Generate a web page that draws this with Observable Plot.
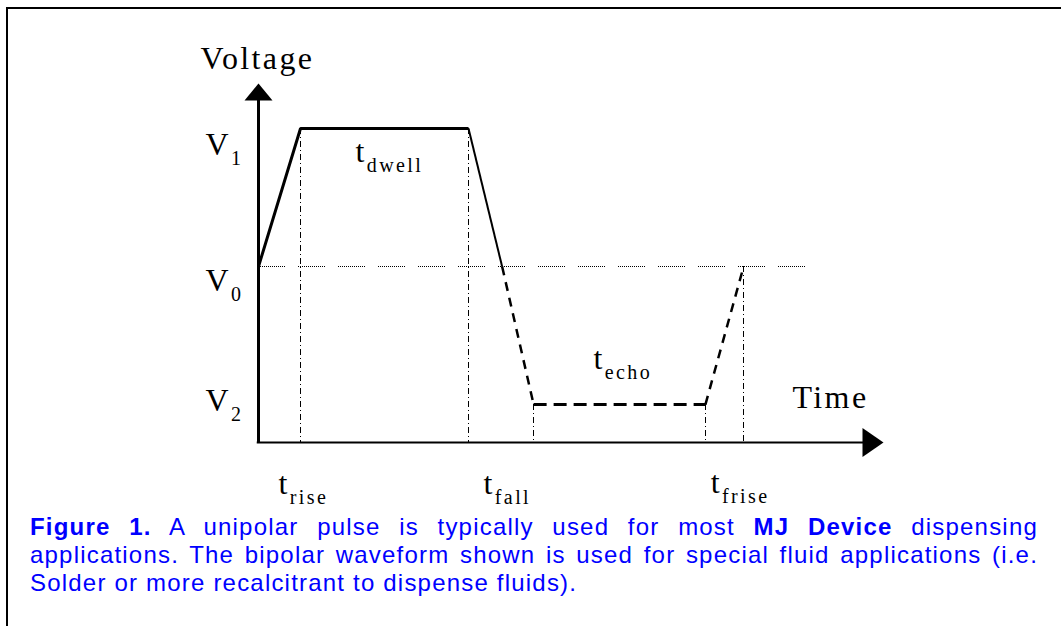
<!DOCTYPE html>
<html>
<head>
<meta charset="utf-8">
<script src="https://cdn.jsdelivr.net/npm/d3@7"></script>
<script src="https://cdn.jsdelivr.net/npm/@observablehq/plot@0.6"></script>
<style>
  html, body { margin: 0; padding: 0; background: #fff; overflow: hidden; width: 1061px; height: 626px; }
  #frame { position: absolute; left: 6px; top: 7px; width: 1200px; height: 800px;
           border-left: 2px solid #000; border-top: 2px solid #000; }
  #chart { position: absolute; left: 0; top: 0; }
  #chart svg text { letter-spacing: 2.4px; }
  #caption { position: absolute; left: 30px; top: 513px; width: 1008px;
             font-family: "Liberation Sans", Arial, sans-serif; font-size: 24px; line-height: 28px;
             letter-spacing: 1.2px; color: #0000ff; }
  #caption .j { text-align: justify; text-align-last: justify; }
</style>
</head>
<body>
<div id="frame"></div>
<div id="chart"></div>
<div id="caption">
  <div class="j"><b>Figure 1.</b> A unipolar pulse is typically used for most <b>MJ Device</b> dispensing</div>
  <div class="j">applications. The bipolar waveform shown is used for special fluid applications (i.e.</div>
  <div>Solder or more recalcitrant to dispense fluids).</div>
</div>
<script>
// ---- data (arbitrary time units / voltage levels) ----
const levelNames = ["V_1", "V_0", "V_2"];
const levelValues = [1, 0, -1];
const pulseT = [0, 1, 5, 5.8, 6.55, 10.64, 11.55];   // waveform corner times
const pulseV = [0, 1, 1, 0, -1, -1, 0];              // waveform corner voltages
const markerT = [1, 5, 6.55, 10.64, 11.55];          // dash-dot time markers
const markerV = [1, 1, -1, -1, 0];
const timeLabels = ["t_rise", "t_fall", "t_frise"];
const timeLabelT = [1, 5, 11.55];
const dwellLabel = "t_dwell";
const echoLabel = "t_echo";
const axisT = [0, 14.88];        // time axis extent
const axisV = [-1.275, 1.326];   // voltage axis extent
const v0LineEnd = 13.02;

const pts = pulseT.map((t, i) => ({t, v: pulseV[i]}));
const markers = markerT.map((t, i) => ({t, v: markerV[i]}));

const upArrow = {draw(ctx) { ctx.moveTo(0, 0); ctx.lineTo(14, 17); ctx.lineTo(-14, 17); ctx.closePath(); }};
const rightArrow = {draw(ctx) { ctx.moveTo(0, 0); ctx.lineTo(-21, -14.5); ctx.lineTo(-21, 14.5); ctx.closePath(); }};

const dotted = Array(13).fill("1,1").join(",") + ",1,13";

function label(x, y, text, dx, dy, size = 32) {
  return Plot.text([[x, y]], {text: [text], dx, dy, textAnchor: "start", lineAnchor: "bottom",
    fontSize: size, fill: "black"});
}

const [xMin, xMax] = axisT;
const [yMin, yMax] = axisV;

const chart = Plot.plot({
  width: 1061,
  height: 510,
  marginLeft: 258,
  marginRight: 178,
  marginTop: 83,
  marginBottom: 68,
  x: {domain: axisT, axis: null},
  y: {domain: axisV, axis: null},
  style: {fontFamily: "'Liberation Serif', 'Times New Roman', serif", background: "transparent", overflow: "visible"},
  marks: [
    // V0 reference dotted line
    Plot.ruleY([0], {x1: xMin, x2: v0LineEnd, stroke: "black", strokeWidth: 1, strokeDasharray: dotted, shapeRendering: "crispEdges"}),
    // dash-dot time markers
    Plot.ruleX(markers, {x: "t", y1: "v", y2: yMin, stroke: "black", strokeWidth: 1, strokeDasharray: "6,3,1,3", shapeRendering: "crispEdges"}),
    // unipolar pulse (solid)
    Plot.line(pts.slice(0, 3), {x: "t", y: "v", stroke: "black", strokeWidth: 3, strokeLinecap: "butt", strokeLinejoin: "miter"}),
    Plot.line(pts.slice(2, 4), {x: "t", y: "v", stroke: "black", strokeWidth: 2, strokeLinecap: "butt"}),
    // bipolar echo (dashed)
    Plot.line(pts.slice(3, 5), {x: "t", y: "v", stroke: "black", strokeWidth: 2.5, strokeLinecap: "butt", strokeDasharray: "9,7"}),
    Plot.line(pts.slice(4, 6), {x: "t", y: "v", stroke: "black", strokeWidth: 3, strokeLinecap: "butt", strokeDasharray: "13,7"}),
    Plot.line(pts.slice(5, 7), {x: "t", y: "v", stroke: "black", strokeWidth: 2.5, strokeLinecap: "butt", strokeDasharray: "9,7"}),
    // axes
    Plot.ruleX([xMin], {y1: yMin, y2: yMax - 0.05, stroke: "black", strokeWidth: 3}),
    Plot.ruleY([yMin], {x1: xMin - 0.03, x2: xMax - 0.3, stroke: "black", strokeWidth: 2}),
    Plot.dot([[xMin, yMax]], {symbol: upArrow, fill: "black", stroke: "none"}),
    Plot.dot([[xMax, yMin]], {symbol: rightArrow, fill: "black", stroke: "none"}),
    // labels
    label(xMin, yMax, "Voltage", -58, -15),
    label(xMin, levelValues[0], levelNames[0], -53, 27),
    label(xMin, levelValues[1], levelNames[1], -53, 24),
    label(xMin, levelValues[2], levelNames[2], -53, 6),
    label((pulseT[1] + pulseT[2]) / 2, pulseV[1], dwellLabel, -29, 34),
    label((pulseT[4] + pulseT[5]) / 2, pulseV[4], echoLabel, -26, -36),
    label(xMax, yMin, "Time", -91, -35),
    label(timeLabelT[0], yMin, timeLabels[0], -22, 51),
    label(timeLabelT[1], yMin, timeLabels[1], 15, 51),
    label(timeLabelT[2], yMin, timeLabels[2], -33, 50)
  ]
});

// turn "x_sub" into main text + subscript tspan
d3.select(chart).selectAll("text").each(function () {
  const s = this.textContent;
  const i = s.indexOf("_");
  if (i < 0) return;
  this.textContent = s.slice(0, i);
  d3.select(this).append("tspan").attr("dy", 10).attr("font-size", 20).text(s.slice(i + 1));
});

document.getElementById("chart").appendChild(chart);
</script>
</body>
</html>
